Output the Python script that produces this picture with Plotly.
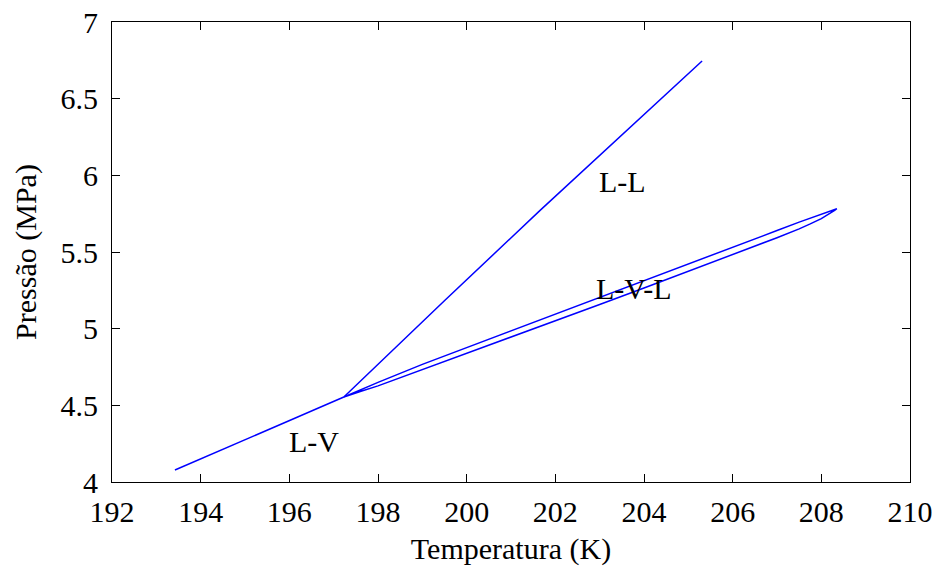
import plotly.graph_objects as go

# Liquid-vapour line (T in K, P in MPa)
lv_T = [193.42, 194.5, 195.5, 196.24, 197.23]
lv_P = [4.078, 4.213, 4.338, 4.430, 4.554]

# Liquid-liquid line from the junction upward
ll_T = [197.23, 199.51, 201.65, 203.5, 205.31]
ll_P = [4.554, 5.185, 5.770, 6.260, 6.746]

# Three-phase loop: upper branch out to the tip, lower branch back
loop_upper_T = [197.23, 197.6, 198.0, 199.0, 200.0, 201.0, 202.0, 203.0, 204.0, 205.0,
                206.0, 207.0, 207.5, 207.75, 208.1, 208.25, 208.35]
loop_upper_P = [4.554, 4.600, 4.650, 4.767, 4.876, 4.983, 5.091, 5.199, 5.310, 5.420,
                5.530, 5.640, 5.695, 5.722, 5.760, 5.774, 5.782]
loop_lower_T = [208.35, 208.3, 208.2, 208.0, 207.75, 207.5, 207.0, 206.0, 205.0, 204.0,
                203.0, 202.0, 201.0, 200.0, 199.0, 198.0, 197.6, 197.23]
loop_lower_P = [5.782, 5.771, 5.752, 5.718, 5.683, 5.651, 5.593, 5.482, 5.373, 5.265,
                5.158, 5.052, 4.945, 4.839, 4.733, 4.627, 4.590, 4.554]

# Region labels
region_labels = ["L-L", "L-V-L", "L-V"]
region_T = [203.52, 203.77, 196.56]
region_P = [5.963, 5.259, 4.267]

x_ticks = [192, 194, 196, 198, 200, 202, 204, 206, 208, 210]
y_ticks = [4, 4.5, 5, 5.5, 6, 6.5, 7]
y_tick_text = ["4", "4.5", "5", "5.5", "6", "6.5", "7"]

FONT = "Liberation Serif"
BLUE = "#0000ff"
SIZE = 30

fig = go.Figure()
for tx, py in [(lv_T, lv_P), (ll_T, ll_P),
               (loop_upper_T + loop_lower_T[1:], loop_upper_P + loop_lower_P[1:])]:
    fig.add_trace(go.Scatter(x=tx, y=py, mode="lines",
                             line=dict(color=BLUE, width=1.5),
                             showlegend=False, hoverinfo="skip"))

for txt, tx, py in zip(region_labels, region_T, region_P):
    fig.add_annotation(x=tx, y=py, text=txt, showarrow=False,
                       font=dict(family=FONT, size=SIZE, color="black"))

axis_common = dict(showgrid=False, zeroline=False, showline=True, linecolor="black",
                   linewidth=1, mirror="ticks", ticks="inside", ticklen=8,
                   tickcolor="black", automargin=False,
                   tickfont=dict(family=FONT, size=SIZE, color="black"))

fig.update_xaxes(range=[192, 210], tickvals=x_ticks, ticktext=[str(v) for v in x_ticks],
                 ticklabelstandoff=3,
                 title=dict(text="Temperatura (K)", standoff=10,
                            font=dict(family=FONT, size=SIZE, color="black")),
                 **axis_common)
fig.update_yaxes(range=[4, 7], tickvals=y_ticks, ticktext=y_tick_text, ticklabelstandoff=7,
                 title=dict(text="Pressão (MPa)", standoff=15,
                            font=dict(family=FONT, size=SIZE, color="black")),
                 **axis_common)

fig.update_layout(width=943, height=567, margin=dict(l=112, r=33, t=22, b=85),
                  plot_bgcolor="white", paper_bgcolor="white")

fig.write_html("out.html")
